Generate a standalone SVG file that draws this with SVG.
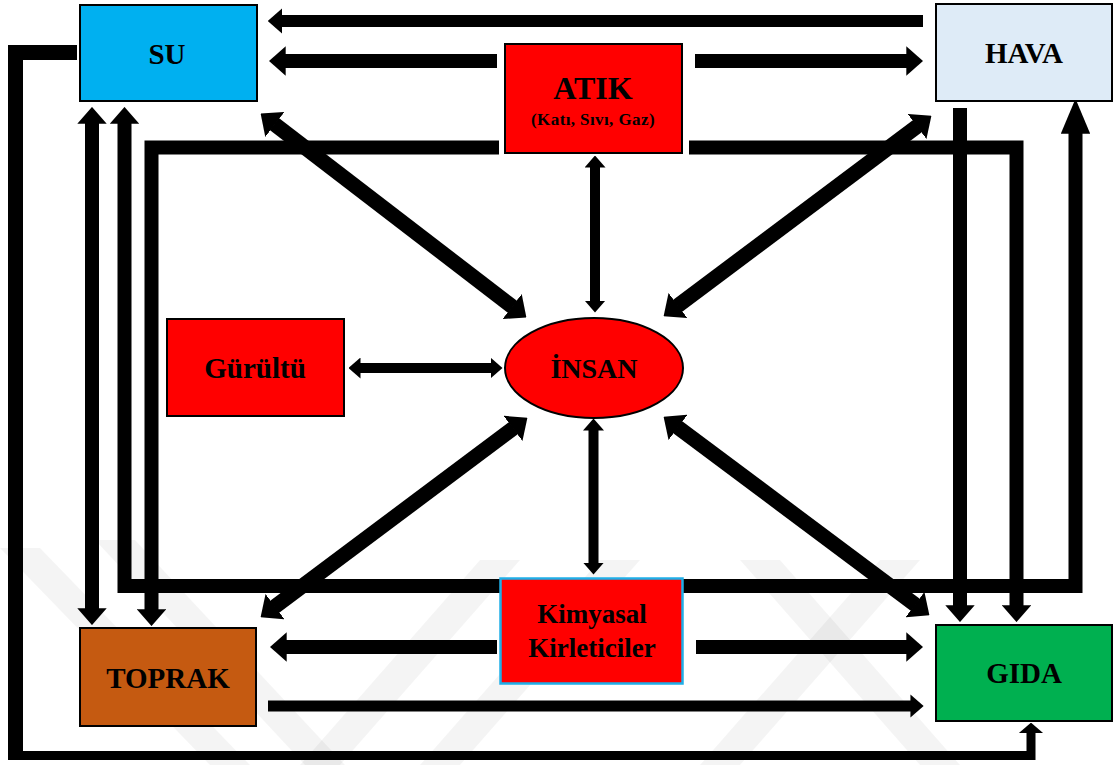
<svg xmlns="http://www.w3.org/2000/svg" width="1117" height="765" viewBox="0 0 1117 765">
  <style>
    .c { fill: none; stroke: #000; stroke-linecap: butt; stroke-linejoin: miter; }
    .box { stroke: #000; stroke-width: 2; }
    .lbl { font-family: "Liberation Serif", "Times New Roman", serif; font-weight: bold; font-size: 29px; fill: #000; text-anchor: middle; }
    .wm { fill: #000; opacity: 0.045; }
  </style>
  <defs>
    <!-- block-arrow heads, sized relative to the shaft width -->
    <marker id="ah" viewBox="0 -1.05 1.2 2.1" refX="0.05" refY="0" markerWidth="1.2" markerHeight="2.1" markerUnits="strokeWidth" orient="auto-start-reverse">
      <path d="M0,-1.05 L1.2,0 L0,1.05 Z" fill="#000"/>
    </marker>
    <marker id="ahLong" viewBox="0 -1.05 2.5 2.1" refX="0.05" refY="0" markerWidth="2.5" markerHeight="2.1" markerUnits="strokeWidth" orient="auto-start-reverse">
      <path d="M0,-1.05 L2.5,0 L0,1.05 Z" fill="#000"/>
    </marker>
    <marker id="ahWide" viewBox="0 -1.4 1.2 2.8" refX="0.05" refY="0" markerWidth="1.2" markerHeight="2.8" markerUnits="strokeWidth" orient="auto-start-reverse">
      <path d="M0,-1.4 L1.2,0 L0,1.4 Z" fill="#000"/>
    </marker>
  </defs>

  <rect x="0" y="0" width="1117" height="765" fill="#fff"/>

  <!-- faint background chevrons -->
  <g id="background-mark">
    <polygon class="wm" points="0,548 40,548 250,765 210,765"/>
    <polygon class="wm" points="95,540 135,540 345,765 305,765"/>
    <polygon class="wm" points="300,765 340,765 520,560 480,560"/>
    <polygon class="wm" points="420,765 460,765 640,560 600,560"/>
    <polygon class="wm" points="700,765 740,765 920,560 880,560"/>
    <polygon class="wm" points="740,560 780,560 960,765 920,765"/>
  </g>

  <g id="connectors">
    <!-- HAVA to SU (top) -->
    <path class="c" stroke-width="12" d="M923,21 H281.5" marker-end="url(#ah)"/>
    <!-- ATIK to SU / HAVA -->
    <path class="c" stroke-width="14" d="M497,61 H285" marker-end="url(#ah)"/>
    <path class="c" stroke-width="14" d="M695,61 H907" marker-end="url(#ah)"/>
    <!-- ATIK to TOPRAK / GIDA -->
    <path class="c" stroke-width="14" d="M499,147.5 H151.5 V610" marker-end="url(#ah)"/>
    <path class="c" stroke-width="14" d="M689,147.5 H1016.5 V606" marker-end="url(#ah)"/>
    <!-- HAVA to GIDA -->
    <path class="c" stroke-width="14" d="M960,108 V606" marker-end="url(#ah)"/>
    <!-- loop SU / HAVA under the centre -->
    <path class="c" stroke-width="14" d="M124.5,123 V586 H1075.5 V133" marker-start="url(#ah)" marker-end="url(#ahLong)"/>
    <!-- SU <-> TOPRAK -->
    <path class="c" stroke-width="14" d="M92,123 V609" marker-start="url(#ah)" marker-end="url(#ah)"/>
    <!-- SU to GIDA, outer frame -->
    <path class="c" stroke-width="15" d="M77,52.5 H15.5 V760"/>
    <path class="c" stroke-width="9" d="M15.5,755.5 H1031 V733" marker-end="url(#ahWide)"/>
    <!-- TOPRAK to GIDA -->
    <path class="c" stroke-width="11" d="M268,706 H911" marker-end="url(#ah)"/>
    <!-- Kimyasal Kirleticiler to TOPRAK / GIDA -->
    <path class="c" stroke-width="14" d="M497,647 H286" marker-end="url(#ah)"/>
    <path class="c" stroke-width="14" d="M696,647 H907" marker-end="url(#ah)"/>
    <!-- Gürültü <-> İNSAN -->
    <path class="c" stroke-width="10" d="M360,368 H491" marker-start="url(#ah)" marker-end="url(#ah)"/>
    <!-- ATIK <-> İNSAN, İNSAN <-> Kimyasal -->
    <path class="c" stroke-width="10" d="M595,167 V301" marker-start="url(#ah)" marker-end="url(#ah)"/>
    <path class="c" stroke-width="10" d="M593.5,430 V563" marker-start="url(#ah)" marker-end="url(#ah)"/>
    <!-- diagonals between the corners and İNSAN -->
    <path class="c" stroke-width="15" d="M274.3,124 L512.7,307" marker-start="url(#ah)" marker-end="url(#ah)"/>
    <path class="c" stroke-width="15" d="M917.6,126 L677.4,306" marker-start="url(#ah)" marker-end="url(#ah)"/>
    <path class="c" stroke-width="15" d="M274.4,607 L513.6,428" marker-start="url(#ah)" marker-end="url(#ah)"/>
    <path class="c" stroke-width="15" d="M915.6,605 L677.4,427" marker-start="url(#ah)" marker-end="url(#ah)"/>
  </g>

  <g id="su">
    <rect class="box" x="80" y="5" width="177" height="96" fill="#00B0F0"/>
    <text class="lbl" x="167" y="64">SU</text>
  </g>
  <g id="atik">
    <rect class="box" x="505" y="44" width="177" height="109" fill="#FF0000"/>
    <text class="lbl" x="593" y="99" style="font-size:32px">ATIK</text>
    <text class="lbl" x="593" y="125" style="font-size:17px" letter-spacing="0.4">(Katı, Sıvı, Gaz)</text>
  </g>
  <g id="hava">
    <rect class="box" x="936" y="4" width="176" height="97" fill="#DEEBF7"/>
    <text class="lbl" x="1024" y="63">HAVA</text>
  </g>
  <g id="gurultu">
    <rect class="box" x="167" y="319" width="177" height="97" fill="#FF0000"/>
    <text class="lbl" x="255" y="378">Gürültü</text>
  </g>
  <g id="insan">
    <ellipse cx="594" cy="368" rx="89" ry="50" fill="#FF0000" stroke="#000" stroke-width="2"/>
    <text class="lbl" x="594" y="378" style="font-size:28px">İNSAN</text>
  </g>
  <g id="toprak">
    <rect class="box" x="80" y="628" width="176" height="98" fill="#C55A11"/>
    <text class="lbl" x="168" y="688">TOPRAK</text>
  </g>
  <g id="kimyasal">
    <rect x="500.5" y="578.5" width="182" height="105" fill="#FF0000" stroke="#1FAEE8" stroke-width="2.5"/>
    <text class="lbl" x="592" y="623" style="font-size:27px">Kimyasal</text>
    <text class="lbl" x="592" y="657" style="font-size:27px">Kirleticiler</text>
  </g>
  <g id="gida">
    <rect class="box" x="936" y="625" width="176" height="96" fill="#00B050"/>
    <text class="lbl" x="1024" y="683">GIDA</text>
  </g>
</svg>
